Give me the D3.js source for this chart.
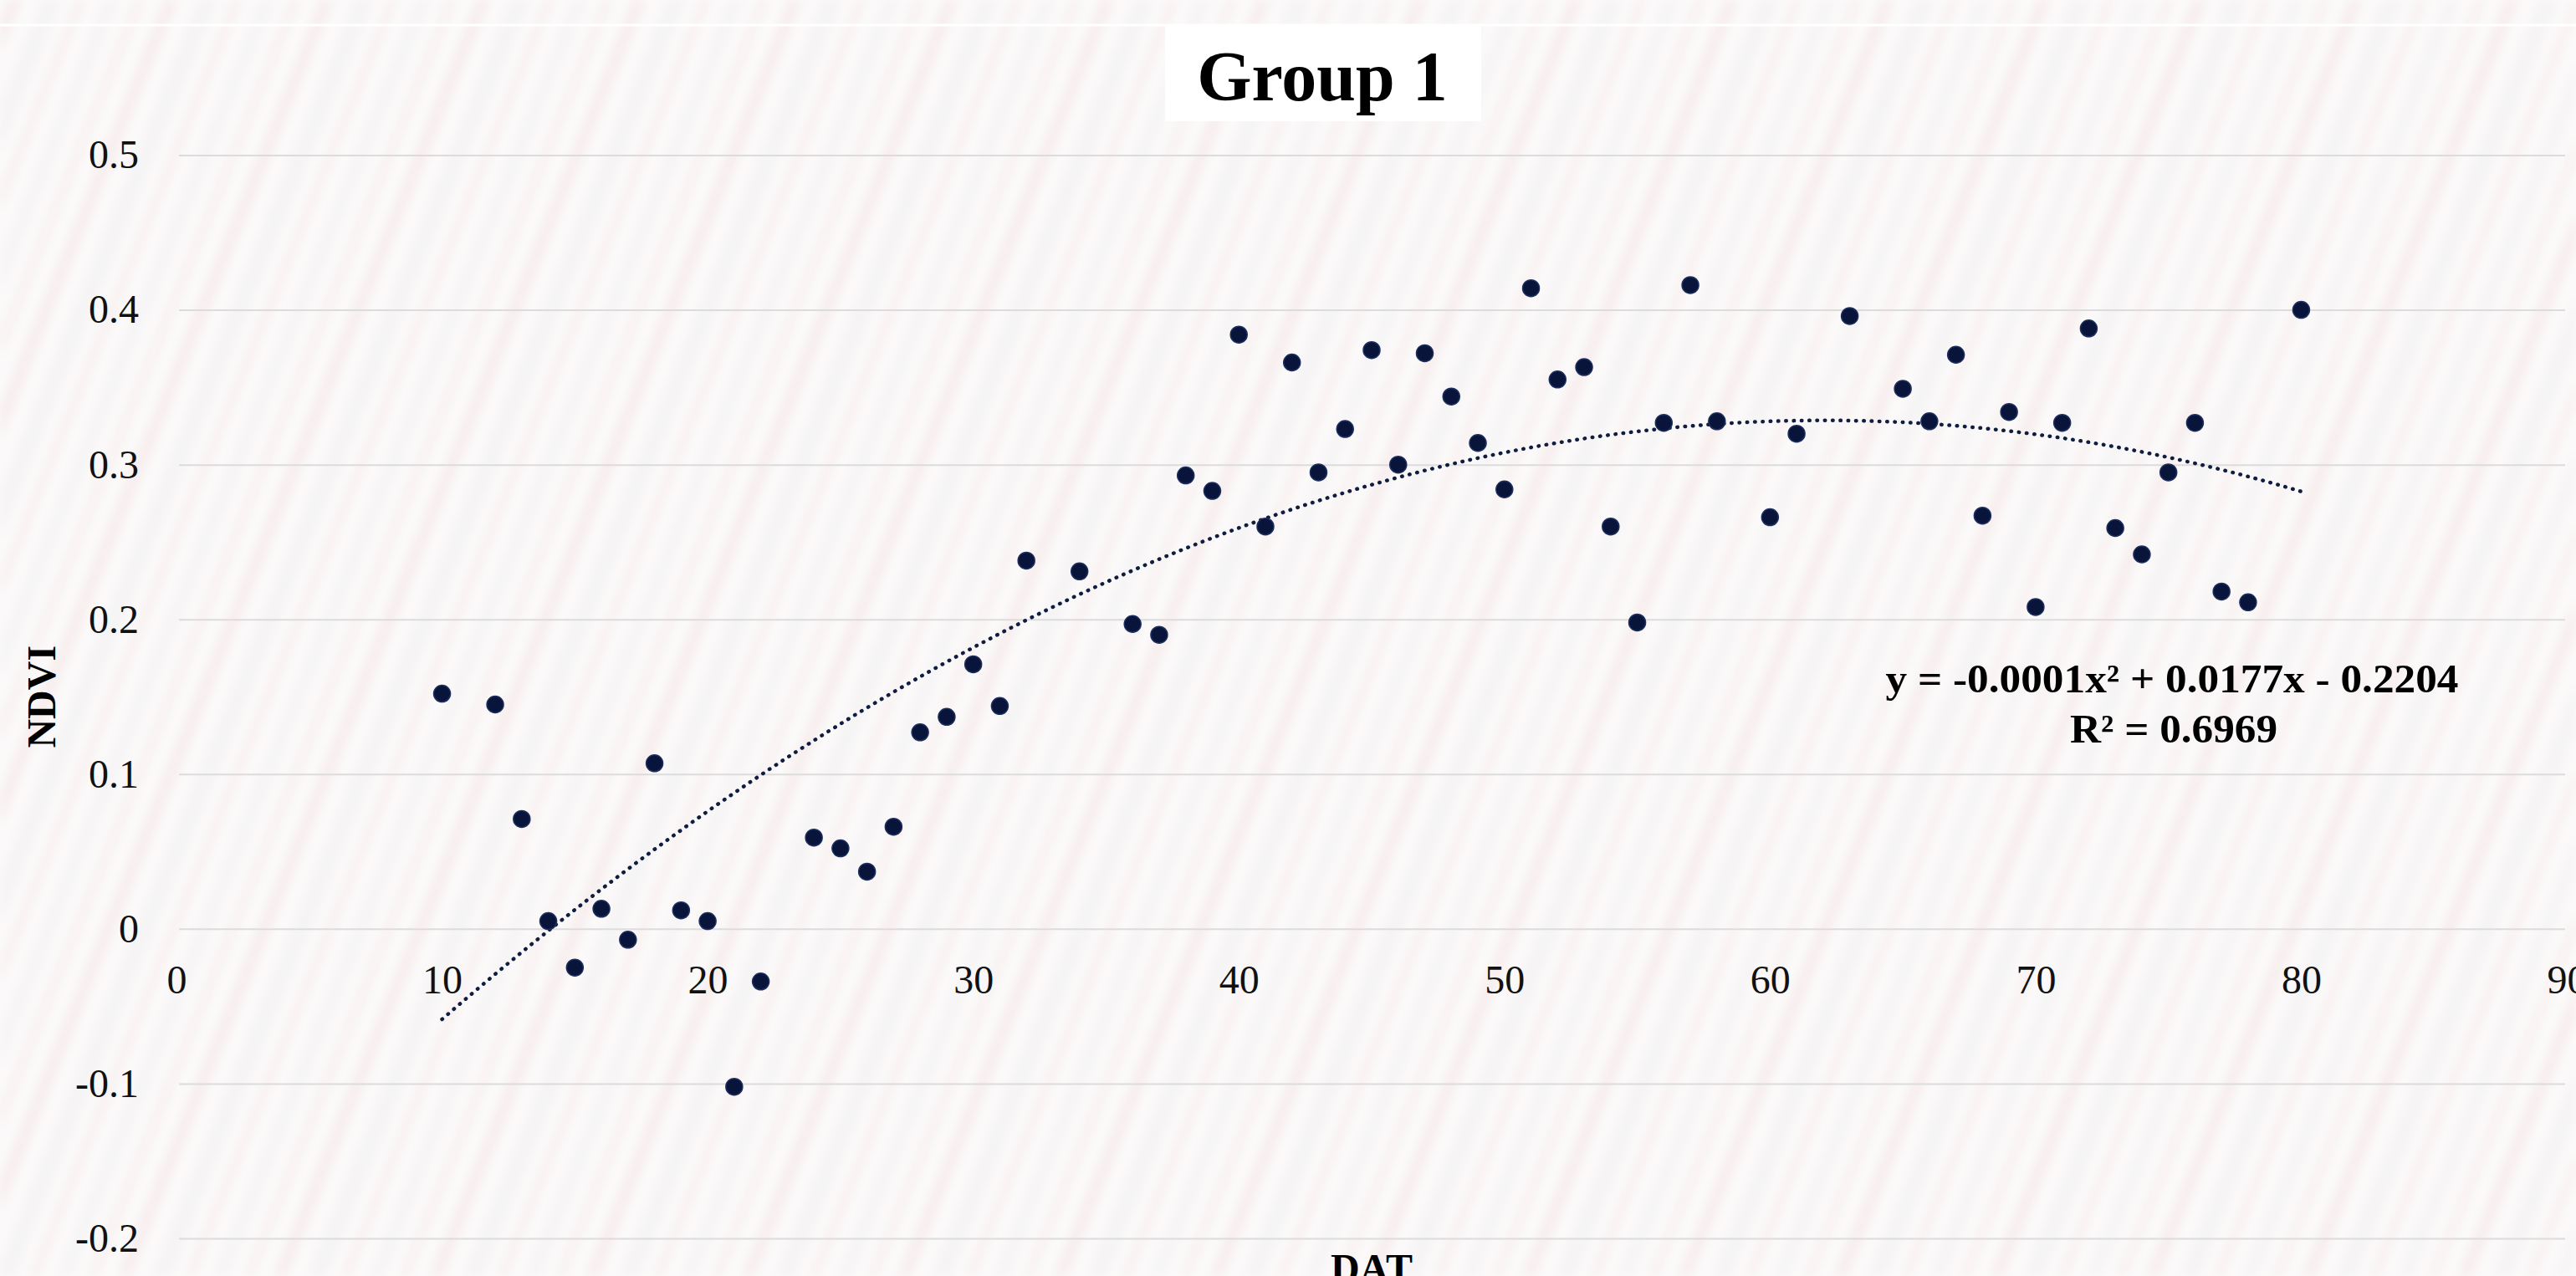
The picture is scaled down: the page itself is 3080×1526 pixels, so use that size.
<!DOCTYPE html>
<html lang="en">
<head>
    <meta charset="UTF-8">
    <title>Group 1 - NDVI by DAT</title>
    <script src="https://d3js.org/d3.v7.min.js"></script>
    <style>
        body {
            margin: 0;
            background-color: #fbf9f9;
        }
        #chart {
            display: block;
        }
        .tick text {
            font-family: "Liberation Serif", "Times New Roman", serif;
            font-size: 48px;
            fill: #111;
        }
        .grid line {
            stroke: #dcdcdc;
            stroke-width: 2px;
        }
        .label {
            font-family: "Liberation Serif", "Times New Roman", serif;
            font-weight: bold;
            fill: #000;
        }
    </style>
</head>
<body>
    <svg id="chart" width="3080" height="1526"></svg>
    <script>
        // values
        const dat = [10, 12, 13, 14, 15, 16, 17, 18, 19, 20, 21, 22, 24, 25, 26, 27, 28, 29, 30, 31,
                     32, 34, 36, 37, 38, 39, 40, 41, 42, 43, 44, 45, 46, 47, 48, 49, 50, 51, 52, 53,
                     54, 55, 56, 57, 58, 60, 61, 63, 65, 66, 67, 68, 69, 70, 71, 72, 73, 74, 75, 76,
                     77, 78, 80];
        const ndvi = [0.152, 0.145, 0.071, 0.005, -0.025, 0.013, -0.007, 0.107, 0.012, 0.005, -0.102, -0.034, 0.059, 0.052, 0.037, 0.066, 0.127, 0.137, 0.171, 0.144,
                      0.238, 0.231, 0.197, 0.190, 0.293, 0.283, 0.384, 0.260, 0.366, 0.295, 0.323, 0.374, 0.300, 0.372, 0.344, 0.314, 0.284, 0.414, 0.355, 0.363,
                      0.260, 0.198, 0.327, 0.416, 0.328, 0.266, 0.320, 0.396, 0.349, 0.328, 0.371, 0.267, 0.334, 0.208, 0.327, 0.388, 0.259, 0.242, 0.295, 0.327,
                      0.218, 0.211, 0.400];
        const xTicks = [0, 10, 20, 30, 40, 50, 60, 70, 80, 90];
        const yTicks = [-0.2, -0.1, 0, 0.1, 0.2, 0.3, 0.4, 0.5];
        const chartTitle = "Group 1";
        const xTitle = "DAT";
        const yTitle = "NDVI";
        const equationLines = ["y = -0.0001x² + 0.0177x - 0.2204", "R² = 0.6969"];

        const svg = d3.select("#chart");
        const width = +svg.attr("width");
        const height = +svg.attr("height");

        const x = d3.scaleLinear().domain([0, 90]).range([211, 3069]);
        const y = d3.scaleLinear().domain([-0.2, 0.5]).range([1481, 185.5]);

        // faint, blurry streaks behind everything
        const defs = svg.append("defs");
        defs.append("filter")
            .attr("id", "soft")
            .attr("x", "-5%").attr("y", "-5%")
            .attr("width", "110%").attr("height", "110%")
            .append("feGaussianBlur")
            .attr("stdDeviation", 6);
        const pat = defs.append("pattern")
            .attr("id", "streaks")
            .attr("patternUnits", "userSpaceOnUse")
            .attr("width", 173)
            .attr("height", 1100)
            .attr("patternTransform", "rotate(22)");
        [[10, 14, "#f1d6d6"], [47, 22, "#e9e9e9"], [86, 8, "#f4dada"], [115, 18, "#ededed"], [150, 10, "#f3dede"]]
            .forEach(([px, w, c]) => {
                pat.append("rect")
                    .attr("x", px).attr("y", 0)
                    .attr("width", w).attr("height", 1100)
                    .attr("fill", c)
                    .attr("opacity", 0.35);
            });

        svg.append("rect")
            .attr("width", width)
            .attr("height", height)
            .attr("fill", "#fbf9f9");
        svg.append("rect")
            .attr("width", width)
            .attr("height", height)
            .attr("fill", "url(#streaks)")
            .attr("filter", "url(#soft)");

        // light top edge
        svg.append("line")
            .attr("x1", 0).attr("x2", width)
            .attr("y1", 30).attr("y2", 30)
            .attr("stroke", "#ffffff")
            .attr("stroke-width", 3);

        // horizontal gridlines + y labels
        const fmt = d => (d === 0 ? "0" : d3.format(".1f")(d).replace("−", "-"));
        svg.append("g")
            .attr("class", "grid")
            .attr("transform", "translate(214,0)")
            .call(d3.axisLeft(y)
                .tickValues(yTicks)
                .tickFormat(fmt)
                .tickSize(-(3067 - 214))
                .tickPadding(48))
            .call(g => g.select(".domain").remove());

        // x labels hang under the zero line
        svg.append("g")
            .attr("transform", `translate(0,${y(0)})`)
            .call(d3.axisBottom(x)
                .tickValues(xTicks)
                .tickSize(0)
                .tickPadding(43))
            .call(g => g.select(".domain").remove());

        // quadratic least squares trend, same as the spreadsheet trendline
        function polyfit2(xs, ys) {
            const s = k => d3.sum(xs, v => Math.pow(v, k));
            const t = k => d3.sum(xs, (v, i) => Math.pow(v, k) * ys[i]);
            const m = [
                [s(0), s(1), s(2), t(0)],
                [s(1), s(2), s(3), t(1)],
                [s(2), s(3), s(4), t(2)]
            ];
            for (let i = 0; i < 3; i++) {
                for (let j = i + 1; j < 3; j++) {
                    const f = m[j][i] / m[i][i];
                    for (let k = i; k < 4; k++) m[j][k] -= f * m[i][k];
                }
            }
            const c = [0, 0, 0];
            for (let i = 2; i >= 0; i--) {
                let v = m[i][3];
                for (let k = i + 1; k < 3; k++) v -= m[i][k] * c[k];
                c[i] = v / m[i][i];
            }
            return c; // c0 + c1 x + c2 x^2
        }
        const coef = polyfit2(dat, ndvi);
        const trend = d3.range(d3.min(dat), d3.max(dat) + 0.01, 0.5)
            .map(v => [v, coef[0] + coef[1] * v + coef[2] * v * v]);

        svg.append("path")
            .datum(trend)
            .attr("fill", "none")
            .attr("stroke", "#0f1d40")
            .attr("stroke-width", 4.5)
            .attr("stroke-linecap", "round")
            .attr("stroke-dasharray", "0.5 8.8")
            .attr("d", d3.line().x(d => x(d[0])).y(d => y(d[1])));

        svg.append("g")
            .selectAll("circle")
            .data(dat)
            .enter().append("circle")
            .attr("cx", d => x(d))
            .attr("cy", (d, i) => y(ndvi[i]))
            .attr("r", 10)
            .attr("fill", "#081439")
            .attr("stroke", "#1d2e5e")
            .attr("stroke-width", 1.5);

        // trendline equation
        svg.append("text")
            .attr("class", "label")
            .attr("x", 2597).attr("y", 828)
            .attr("text-anchor", "middle")
            .attr("font-size", 48)
            .attr("textLength", 685)
            .attr("lengthAdjust", "spacingAndGlyphs")
            .text(equationLines[0]);
        svg.append("text")
            .attr("class", "label")
            .attr("x", 2599).attr("y", 888)
            .attr("text-anchor", "middle")
            .attr("font-size", 48)
            .attr("textLength", 248)
            .attr("lengthAdjust", "spacingAndGlyphs")
            .text(equationLines[1]);

        // title on a white patch
        svg.append("rect")
            .attr("x", 1393).attr("y", 30)
            .attr("width", 378).attr("height", 115)
            .attr("fill", "#ffffff");
        svg.append("text")
            .attr("class", "label")
            .attr("x", 1581).attr("y", 120)
            .attr("text-anchor", "middle")
            .attr("font-size", 84)
            .text(chartTitle);

        svg.append("text")
            .attr("class", "label")
            .attr("transform", `translate(66,${(y(0.5) + y(-0.2)) / 2}) rotate(-90)`)
            .attr("text-anchor", "middle")
            .attr("font-size", 48)
            .text(yTitle);

        svg.append("text")
            .attr("class", "label")
            .attr("x", (x(0) + x(90)) / 2).attr("y", 1533)
            .attr("text-anchor", "middle")
            .attr("font-size", 48)
            .text(xTitle);
    </script>
</body>
</html>
